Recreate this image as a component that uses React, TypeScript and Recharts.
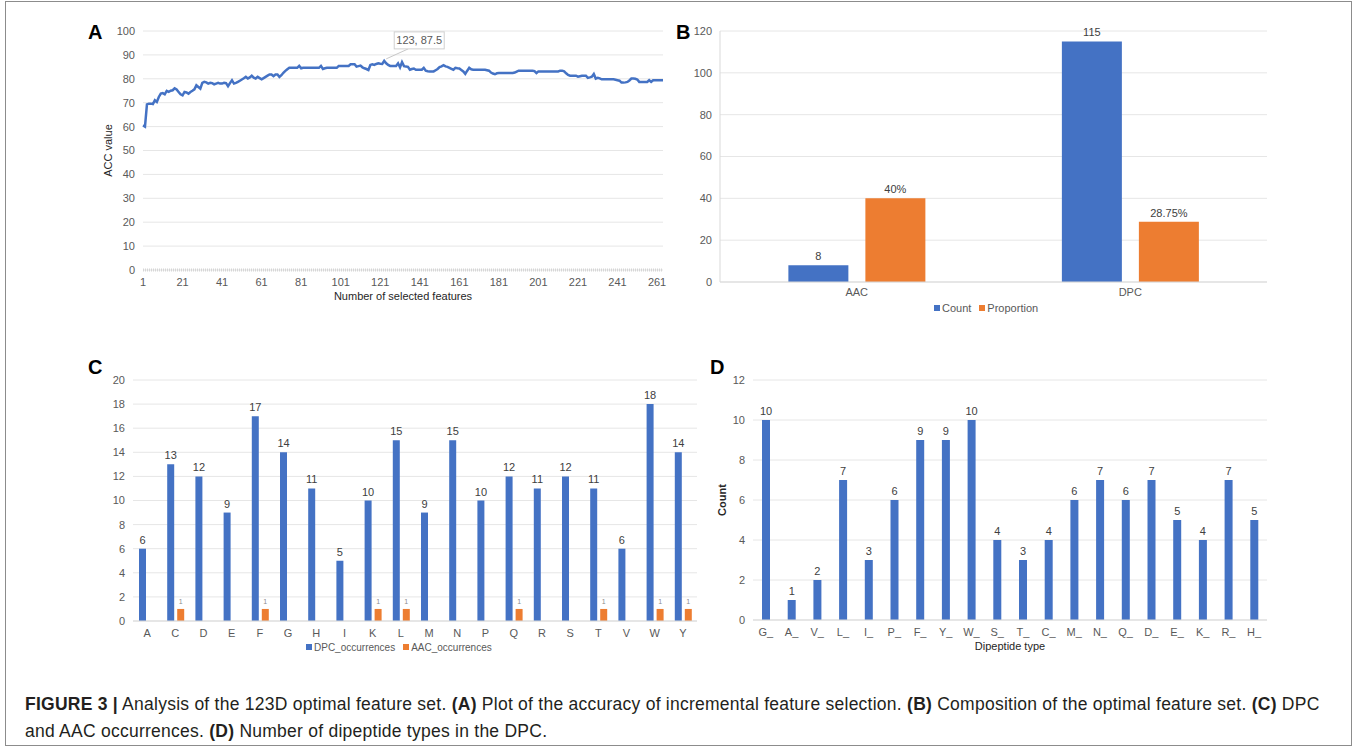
import React from 'react';
import { LineChart, Line, BarChart, Bar, XAxis, YAxis, CartesianGrid, LabelList } from 'recharts';

const FONT = '"Liberation Sans", Arial, sans-serif';
const BLUE = '#4472C4';
const ORANGE = '#ED7D31';
const GRID = '#e6e6e6';
const AXIS = '#d9d9d9';
const TICK = { fill: '#595959', fontSize: 11, fontFamily: FONT };

// A: accuracy vs number of selected features (1..264)
const accValues = [
  60.5, 60, 69.3, 69.6, 69.6, 69.4, 71, 70.3, 72.4, 73.8,
  74, 73.5, 74.9, 74.5, 75, 75.2, 76, 75.5, 74.5, 73.5,
  73.1, 74.5, 74.3, 73.8, 74.5, 75, 75.6, 77.3, 76.6, 75.9,
  78.3, 78.7, 78.5, 78, 78.3, 78.2, 77.7, 78, 78.3, 78,
  78, 78.3, 78.2, 76.9, 78.2, 79.4, 78, 78.3, 78.7, 79.2,
  79.7, 80.2, 80.8, 80.1, 80.6, 81.3, 80.5, 80.1, 80.8, 80.3,
  79.8, 80.3, 80.8, 81.3, 81.8, 81.8, 81.1, 81.8, 81.8, 80.8,
  81.5, 82.5, 83.3, 84, 84.6, 84.6, 84.6, 84.6, 84.6, 85.4,
  84.4, 84.6, 84.6, 84.6, 84.6, 84.6, 84.6, 84.6, 84.6, 84.6,
  85.4, 84.1, 84.4, 84.6, 84.6, 84.6, 84.6, 84.6, 84.6, 85.4,
  85.4, 85.4, 85.4, 85.4, 85.4, 86.1, 86.1, 86.1, 85.1, 85.3,
  85.5, 84.8, 84.4, 84.1, 83.7, 85.8, 86.1, 85.8, 86.2, 86.5,
  86.3, 86.2, 87.5, 86.5, 85.8, 85.4, 85.4, 85.4, 85.4, 86.5,
  84.8, 87, 85.3, 85.1, 85, 83.8, 84.1, 84.3, 83.8, 83.8,
  83.8, 83.8, 84.6, 83.4, 83.2, 83.1, 83.1, 83.1, 83.6, 84.1,
  84.9, 85.2, 85.7, 85.2, 85, 84.6, 84.2, 83.8, 84.6, 84.4,
  84.3, 83.7, 83.1, 82.1, 83.4, 84.6, 84, 83.8, 83.8, 83.8,
  83.8, 83.8, 83.8, 83.8, 83.6, 83.4, 82.6, 82.2, 81.9, 82.3,
  82.4, 82.4, 82.4, 82.4, 82.4, 82.4, 82.4, 82.4, 82.6, 83,
  83.4, 83.4, 83.4, 83.4, 83.4, 83.4, 83.4, 83.4, 83.2, 82.4,
  83.1, 83.1, 83.1, 83.1, 83.1, 83.1, 83.1, 83.1, 83.1, 83.1,
  83.1, 83.4, 83.4, 83.1, 82.3, 81.6, 81.3, 81.3, 81.3, 81.3,
  80.9, 81.1, 81.3, 81.3, 81.3, 80.4, 80.6, 80.9, 82, 80.1,
  80.4, 80.2, 79.8, 79.8, 79.8, 79.8, 79.8, 79.8, 79.8, 79.6,
  79.4, 79.2, 78.4, 78.4, 78.5, 78.7, 79.3, 80.1, 80.1, 80,
  79.7, 78.7, 78.7, 78.7, 78.7, 78.7, 79.4, 78.7, 79.4, 79.4,
  79.4, 79.4, 79.4, 79.4,
];
const accXTicks = [1, 21, 41, 61, 81, 101, 121, 141, 161, 181, 201, 221, 241, 261];
const accYTicks = [0, 10, 20, 30, 40, 50, 60, 70, 80, 90, 100];
const PEAK_N = 123;
const accData = accValues.map((acc, i) => ({ n: i + 1, acc }));

// B: composition of the optimal feature set
const compCategories = ['AAC', 'DPC'];
const compCount = [8, 115];
const compProportion = [40, 28.75];
const compYTicks = [0, 20, 40, 60, 80, 100, 120];
const compData = compCategories.map((name, i) => ({ name, count: compCount[i], proportion: compProportion[i] }));

// C: DPC and AAC occurrences
const aminoAcids = ['A', 'C', 'D', 'E', 'F', 'G', 'H', 'I', 'K', 'L', 'M', 'N', 'P', 'Q', 'R', 'S', 'T', 'V', 'W', 'Y'];
const dpcOccurrences = [6, 13, 12, 9, 17, 14, 11, 5, 10, 15, 9, 15, 10, 12, 11, 12, 11, 6, 18, 14];
const aacOccurrences = [null, 1, null, null, 1, null, null, null, 1, 1, null, null, null, 1, null, null, 1, null, 1, 1];
const occYTicks = [0, 2, 4, 6, 8, 10, 12, 14, 16, 18, 20];
const occData = aminoAcids.map((aa, i) => ({ aa, dpc: dpcOccurrences[i], aac: aacOccurrences[i] }));

// D: number of dipeptide types in the DPC
const dipeptideTypes = ['G_', 'A_', 'V_', 'L_', 'I_', 'P_', 'F_', 'Y_', 'W_', 'S_', 'T_', 'C_', 'M_', 'N_', 'Q_', 'D_', 'E_', 'K_', 'R_', 'H_'];
const dipeptideCounts = [10, 1, 2, 7, 3, 6, 9, 9, 10, 4, 3, 4, 6, 7, 6, 7, 5, 4, 7, 5];
const dipYTicks = [0, 2, 4, 6, 8, 10, 12];
const dipData = dipeptideTypes.map((t, i) => ({ t, count: dipeptideCounts[i] }));

function PanelLetter({ x, y, letter }: { x: number; y: number; letter: string }) {
  return (
    <div style={{ position: 'absolute', left: x, top: y, fontSize: 20, lineHeight: '20px', fontWeight: 700, fontFamily: FONT }}>
      {letter}
    </div>
  );
}

function LegendItem({ color, label }: { color: string; label: string }) {
  return (
    <span style={{ display: 'inline-flex', alignItems: 'center', marginRight: 8 }}>
      <span style={{ width: 6, height: 6, background: color, display: 'inline-block', marginRight: 2 }} />
      {label}
    </span>
  );
}

function PeakDot(props: any) {
  const { cx, cy, index } = props;
  const d = accData[index];
  if (!d || d.n !== PEAK_N) return <g key={index} />;
  const bx = cx + 10;
  const by = cy - 29;
  return (
    <g key={index}>
      <line x1={cx + 2} y1={cy - 2} x2={bx + 14} y2={by + 17} stroke="#c8c8c8" strokeWidth={1} />
      <rect x={bx} y={by} width={50} height={17} fill="#fff" stroke="#d0d0d0" />
      <text x={bx + 25} y={by + 12.5} textAnchor="middle" fontSize={11} fill="#595959" fontFamily={FONT}>
        {`${d.n}, ${d.acc}`}
      </text>
    </g>
  );
}

function VerticalTitle({ viewBox, value, dx, bold }: any) {
  const x = viewBox.x + dx;
  const y = viewBox.y + viewBox.height / 2;
  return (
    <text x={x} y={y} transform={`rotate(-90, ${x}, ${y})`} textAnchor="middle" dominantBaseline="central"
      fontSize={11} fill="#262626" fontWeight={bold ? 700 : 400} fontFamily={FONT}>
      {value}
    </text>
  );
}

export default function App() {
  return (
    <div style={{ position: 'absolute', left: 0, top: 0, width: 1357, height: 748, background: '#fff', fontFamily: FONT, overflow: 'hidden' }}>
      <div style={{ position: 'absolute', left: 5, top: 1, width: 1345, height: 743, border: '1px solid #8c8c8c' }} />

      <PanelLetter x={88} y={22} letter="A" />
      <PanelLetter x={676} y={22} letter="B" />
      <PanelLetter x={88} y={357} letter="C" />
      <PanelLetter x={710} y={357} letter="D" />

      {/* A */}
      <div style={{ position: 'absolute', left: 80, top: 15 }}>
        <LineChart width={600} height={300} data={accData} margin={{ top: 16, right: 17, left: 23, bottom: 15 }}>
          <CartesianGrid vertical={false} stroke={GRID} />
          <XAxis dataKey="n" type="number" domain={[1, 264]} ticks={accXTicks} interval={0}
            tick={TICK} tickLine={false} height={30}
            axisLine={{ stroke: '#d6d6d6', strokeWidth: 3, strokeDasharray: '1 1' }}
            label={{ value: 'Number of selected features', position: 'insideBottom', offset: 0, fontSize: 11, fill: '#262626', fontFamily: FONT }} />
          <YAxis domain={[0, 100]} ticks={accYTicks} tick={TICK} tickLine={false} axisLine={false} width={40}
            label={(p: any) => <VerticalTitle {...p} value="ACC value" dx={5} />} />
          <Line type="linear" dataKey="acc" stroke={BLUE} strokeWidth={2.5} dot={PeakDot} activeDot={false} isAnimationActive={false} />
        </LineChart>
      </div>

      {/* B */}
      <div style={{ position: 'absolute', left: 670, top: 15 }}>
        <BarChart width={620} height={310} data={compData} margin={{ top: 16, right: 23, left: 15, bottom: 18 }}
          barCategoryGap="25%" barGap={17}>
          <CartesianGrid vertical={false} stroke={GRID} />
          <XAxis dataKey="name" tick={TICK} tickLine={false} tickSize={4} axisLine={{ stroke: AXIS }} height={25} />
          <YAxis domain={[0, 120]} ticks={compYTicks} tick={TICK} tickLine={false} axisLine={{ stroke: AXIS }} width={35} />
          <Bar dataKey="count" fill={BLUE} isAnimationActive={false}>
            <LabelList dataKey="count" position="top" fontSize={11} fill="#404040" fontFamily={FONT} />
          </Bar>
          <Bar dataKey="proportion" fill={ORANGE} isAnimationActive={false}>
            <LabelList dataKey="proportion" position="top" fontSize={11} fill="#404040" fontFamily={FONT}
              formatter={(v: any) => `${v}%`} />
          </Bar>
        </BarChart>
      </div>
      <div style={{ position: 'absolute', left: 934, top: 301, fontSize: 11, color: '#595959', whiteSpace: 'nowrap' }}>
        <LegendItem color={BLUE} label="Count" />
        <LegendItem color={ORANGE} label="Proportion" />
      </div>

      {/* C */}
      <div style={{ position: 'absolute', left: 80, top: 360 }}>
        <BarChart width={620} height={300} data={occData} margin={{ top: 20, right: 3, left: 23, bottom: 14 }} barGap={3}>
          <CartesianGrid vertical={false} stroke={GRID} />
          <XAxis dataKey="aa" tick={TICK} tickLine={false} axisLine={{ stroke: AXIS }} height={25} interval={0} />
          <YAxis domain={[0, 20]} ticks={occYTicks} tick={TICK} tickLine={false} axisLine={false} width={30} />
          <Bar dataKey="dpc" fill={BLUE} barSize={7} isAnimationActive={false}>
            <LabelList dataKey="dpc" position="top" fontSize={11} fill="#404040" fontFamily={FONT} />
          </Bar>
          <Bar dataKey="aac" fill={ORANGE} barSize={7} isAnimationActive={false}>
            <LabelList dataKey="aac" position="top" fontSize={7} fill="#8c8c8c" fontFamily={FONT} />
          </Bar>
        </BarChart>
      </div>
      <div style={{ position: 'absolute', left: 306, top: 641, fontSize: 10, color: '#595959', whiteSpace: 'nowrap' }}>
        <LegendItem color={BLUE} label="DPC_occurrences" />
        <LegendItem color={ORANGE} label="AAC_occurrences" />
      </div>

      {/* D */}
      <div style={{ position: 'absolute', left: 700, top: 360 }}>
        <BarChart width={600} height={300} data={dipData} margin={{ top: 20, right: 33, left: 28, bottom: 10 }}>
          <CartesianGrid vertical={false} stroke={GRID} />
          <XAxis dataKey="t" tick={TICK} tickLine={false} axisLine={{ stroke: AXIS }} height={30} interval={0}
            label={{ value: 'Dipeptide type', position: 'insideBottom', offset: 0, fontSize: 11, fill: '#262626', fontFamily: FONT }} />
          <YAxis domain={[0, 12]} ticks={dipYTicks} tick={TICK} tickLine={false} axisLine={false} width={25}
            label={(p: any) => <VerticalTitle {...p} value="Count" dx={-6} bold />} />
          <Bar dataKey="count" fill={BLUE} barSize={8} isAnimationActive={false}>
            <LabelList dataKey="count" position="top" fontSize={11} fill="#404040" fontFamily={FONT} />
          </Bar>
        </BarChart>
      </div>

      {/* caption */}
      <div style={{ position: 'absolute', left: 25, top: 691, fontSize: 17.5, letterSpacing: 0.25, lineHeight: '27px', color: '#231f20', whiteSpace: 'nowrap' }}>
        <div>
          <b>FIGURE 3 |</b> Analysis of the 123D optimal feature set. <b>(A)</b> Plot of the accuracy of incremental feature selection. <b>(B)</b> Composition of the optimal feature set. <b>(C)</b> DPC
        </div>
        <div>
          and AAC occurrences. <b>(D)</b> Number of dipeptide types in the DPC.
        </div>
      </div>
    </div>
  );
}
